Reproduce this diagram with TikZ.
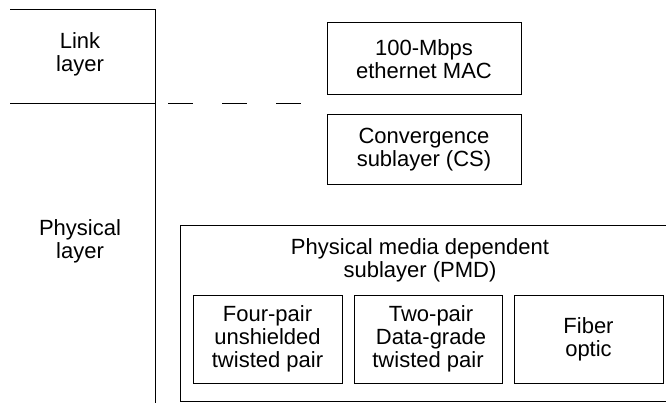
\documentclass[tikz,border=0pt]{standalone}
\usepackage{fontspec}
\setmainfont{Liberation Sans}
\begin{document}
\begin{tikzpicture}[x=1pt,y=-1pt,
  line width=1pt,
  lbl/.style={align=center,font=\fontsize{22}{23}\selectfont,inner sep=0pt},
]
\useasboundingbox (0,0) rectangle (666,403);
% left frame
\coordinate (tl) at (10,10);
\coordinate (tr) at (155,10);
\coordinate (bot) at (155,403);
\coordinate (ml) at (10,104);
\coordinate (mr) at (155,104);
\coordinate (d1) at (168,104);
\coordinate (d2) at (303,104);
\draw (tl) -- (tr) -- (bot);
\draw (ml) -- (mr);
\draw[dash pattern=on 25pt off 29pt] (d1) -- (d2);
\node[lbl] (link) at (80,54) {Link\\layer};
\node[lbl] (phys) at (80,241) {Physical\\layer};
% upper boxes
\node[draw,minimum width=194pt,minimum height=72pt,lbl] (mac) at (424,59) {100-Mbps\\ethernet MAC};
\node[draw,minimum width=194pt,minimum height=70pt,lbl] (cs) at (424,150) {Convergence\\sublayer (CS)};
% PMD outer
\draw (690,226) -- (180,226) -- (180,401) -- (690,401);
\node[lbl] (pmd) at (420,260) {Physical media dependent\\sublayer (PMD)};
\node[draw,minimum width=149pt,minimum height=88pt,lbl] (fp) at (267.5,339) {Four-pair\\unshielded\\twisted pair};
\node[draw,minimum width=148pt,minimum height=88pt,lbl] (tp) at (428,339) {\hspace*{6pt}Two-pair\\\hspace*{6pt}Data-grade\\twisted pair};
\node[draw,minimum width=149pt,minimum height=88pt,lbl] (fo) at (588.5,339) {Fiber\\optic};
\end{tikzpicture}
\end{document}
